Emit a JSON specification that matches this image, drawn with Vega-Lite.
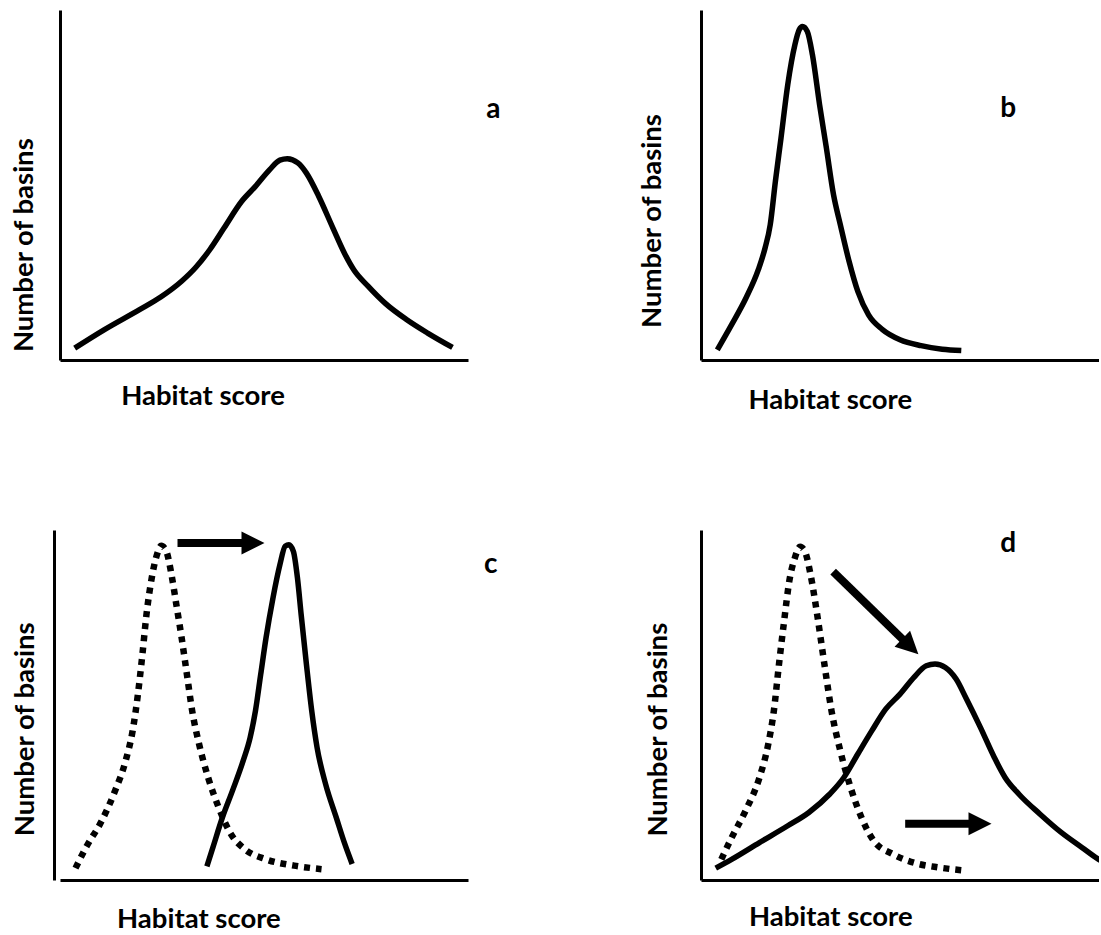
{
  "$schema": "https://vega.github.io/schema/vega-lite/v6.json",
  "background": "white",
  "padding": {"left": 10, "top": 10, "right": 0, "bottom": 0},
  "bounds": "flush",
  "align": "each",
  "columns": 2,
  "spacing": {"row": 170, "column": 233},
  "config": {
    "view": {"stroke": null},
    "axis": {
      "ticks": false, "labels": false, "grid": false,
      "domainColor": "black", "domainWidth": 3,
      "titleFont": "Lato", "titleFontWeight": "bold", "titleFontSize": 27.5, "titleColor": "black",
      "titleAlign": "center", "titleBaseline": "alphabetic"
    }
  },
  "datasets": {
    "curves": [
      {"p":"a","s":"solid","i":1,"score":3.6,"basins":3.4},
      {"p":"a","s":"solid","i":2,"score":10.9,"basins":8.7},
      {"p":"a","s":"solid","i":3,"score":19.5,"basins":14.4},
      {"p":"a","s":"solid","i":4,"score":24.7,"basins":18.0},
      {"p":"a","s":"solid","i":5,"score":29.8,"basins":22.5},
      {"p":"a","s":"solid","i":6,"score":33.3,"basins":26.5},
      {"p":"a","s":"solid","i":7,"score":36.7,"basins":31.5},
      {"p":"a","s":"solid","i":8,"score":40.2,"basins":37.7},
      {"p":"a","s":"solid","i":9,"score":44.5,"basins":45.3},
      {"p":"a","s":"solid","i":10,"score":47.9,"basins":49.6},
      {"p":"a","s":"solid","i":11,"score":51.4,"basins":54.4},
      {"p":"a","s":"solid","i":12,"score":53.9,"basins":57.1},
      {"p":"a","s":"solid","i":13,"score":55.7,"basins":57.5},
      {"p":"a","s":"solid","i":14,"score":58.3,"basins":56.3},
      {"p":"a","s":"solid","i":15,"score":60.4,"basins":53.4},
      {"p":"a","s":"solid","i":16,"score":63.4,"basins":46.8},
      {"p":"a","s":"solid","i":17,"score":66.9,"basins":37.7},
      {"p":"a","s":"solid","i":18,"score":69.9,"basins":30.1},
      {"p":"a","s":"solid","i":19,"score":72.0,"basins":25.8},
      {"p":"a","s":"solid","i":20,"score":75.5,"basins":21.1},
      {"p":"a","s":"solid","i":21,"score":79.8,"basins":16.1},
      {"p":"a","s":"solid","i":22,"score":85.0,"basins":11.5},
      {"p":"a","s":"solid","i":23,"score":90.1,"basins":7.7},
      {"p":"a","s":"solid","i":24,"score":96.2,"basins":3.6},

      {"p":"b","s":"solid","i":1,"score":4.1,"basins":2.9},
      {"p":"b","s":"solid","i":2,"score":7.7,"basins":10.1},
      {"p":"b","s":"solid","i":3,"score":11.3,"basins":17.7},
      {"p":"b","s":"solid","i":4,"score":14.4,"basins":25.8},
      {"p":"b","s":"solid","i":5,"score":16.1,"basins":32.0},
      {"p":"b","s":"solid","i":6,"score":17.4,"basins":38.7},
      {"p":"b","s":"solid","i":7,"score":18.7,"basins":51.1},
      {"p":"b","s":"solid","i":8,"score":20.1,"basins":63.4},
      {"p":"b","s":"solid","i":9,"score":21.8,"basins":78.7},
      {"p":"b","s":"solid","i":10,"score":23.6,"basins":90.1},
      {"p":"b","s":"solid","i":11,"score":24.7,"basins":94.4},
      {"p":"b","s":"solid","i":12,"score":25.5,"basins":95.3},
      {"p":"b","s":"solid","i":13,"score":26.7,"basins":93.9},
      {"p":"b","s":"solid","i":14,"score":28.0,"basins":87.2},
      {"p":"b","s":"solid","i":15,"score":29.8,"basins":72.9},
      {"p":"b","s":"solid","i":16,"score":31.5,"basins":60.6},
      {"p":"b","s":"solid","i":17,"score":33.3,"basins":47.2},
      {"p":"b","s":"solid","i":18,"score":35.0,"basins":38.7},
      {"p":"b","s":"solid","i":19,"score":37.2,"basins":28.2},
      {"p":"b","s":"solid","i":20,"score":39.4,"basins":19.6},
      {"p":"b","s":"solid","i":21,"score":42.1,"basins":12.9},
      {"p":"b","s":"solid","i":22,"score":45.6,"basins":8.7},
      {"p":"b","s":"solid","i":23,"score":50.0,"basins":5.8},
      {"p":"b","s":"solid","i":24,"score":55.3,"basins":4.1},
      {"p":"b","s":"solid","i":25,"score":60.6,"basins":3.1},
      {"p":"b","s":"solid","i":26,"score":65.4,"basins":2.7},

      {"p":"c","s":"dotted","i":1,"score":3.8,"basins":3.4},
      {"p":"c","s":"dotted","i":2,"score":6.6,"basins":9.8},
      {"p":"c","s":"dotted","i":3,"score":10.0,"basins":16.4},
      {"p":"c","s":"dotted","i":4,"score":13.5,"basins":25.5},
      {"p":"c","s":"dotted","i":5,"score":16.1,"basins":34.1},
      {"p":"c","s":"dotted","i":6,"score":17.8,"basins":42.6},
      {"p":"c","s":"dotted","i":7,"score":19.1,"basins":53.1},
      {"p":"c","s":"dotted","i":8,"score":20.2,"basins":64.5},
      {"p":"c","s":"dotted","i":9,"score":21.2,"basins":75.9},
      {"p":"c","s":"dotted","i":10,"score":22.5,"basins":86.4},
      {"p":"c","s":"dotted","i":11,"score":23.8,"basins":93.1},
      {"p":"c","s":"dotted","i":12,"score":24.8,"basins":95.5},
      {"p":"c","s":"dotted","i":13,"score":26.0,"basins":94.1},
      {"p":"c","s":"dotted","i":14,"score":27.3,"basins":87.4},
      {"p":"c","s":"dotted","i":15,"score":28.5,"basins":78.8},
      {"p":"c","s":"dotted","i":16,"score":29.8,"basins":69.3},
      {"p":"c","s":"dotted","i":17,"score":31.1,"basins":58.8},
      {"p":"c","s":"dotted","i":18,"score":32.4,"basins":48.3},
      {"p":"c","s":"dotted","i":19,"score":34.1,"basins":38.8},
      {"p":"c","s":"dotted","i":20,"score":36.3,"basins":29.3},
      {"p":"c","s":"dotted","i":21,"score":38.9,"basins":20.7},
      {"p":"c","s":"dotted","i":22,"score":41.9,"basins":13.1},
      {"p":"c","s":"dotted","i":23,"score":45.3,"basins":8.8},
      {"p":"c","s":"dotted","i":24,"score":50.5,"basins":5.9},
      {"p":"c","s":"dotted","i":25,"score":57.4,"basins":4.1},
      {"p":"c","s":"dotted","i":26,"score":64.1,"basins":3.1},

      {"p":"c","s":"solid","i":1,"score":36.0,"basins":3.9},
      {"p":"c","s":"solid","i":2,"score":37.5,"basins":9.4},
      {"p":"c","s":"solid","i":3,"score":39.7,"basins":17.5},
      {"p":"c","s":"solid","i":4,"score":42.3,"basins":25.6},
      {"p":"c","s":"solid","i":5,"score":44.9,"basins":34.1},
      {"p":"c","s":"solid","i":6,"score":46.6,"basins":40.7},
      {"p":"c","s":"solid","i":7,"score":47.9,"basins":48.3},
      {"p":"c","s":"solid","i":8,"score":49.2,"basins":58.8},
      {"p":"c","s":"solid","i":9,"score":50.5,"basins":69.2},
      {"p":"c","s":"solid","i":10,"score":52.2,"basins":80.6},
      {"p":"c","s":"solid","i":11,"score":53.9,"basins":90.1},
      {"p":"c","s":"solid","i":12,"score":55.2,"basins":95.4},
      {"p":"c","s":"solid","i":13,"score":56.1,"basins":95.8},
      {"p":"c","s":"solid","i":14,"score":57.2,"basins":93.9},
      {"p":"c","s":"solid","i":15,"score":58.2,"basins":86.3},
      {"p":"c","s":"solid","i":16,"score":59.1,"basins":75.9},
      {"p":"c","s":"solid","i":17,"score":60.4,"basins":61.6},
      {"p":"c","s":"solid","i":18,"score":61.7,"basins":48.3},
      {"p":"c","s":"solid","i":19,"score":63.0,"basins":37.9},
      {"p":"c","s":"solid","i":20,"score":65.1,"basins":27.4},
      {"p":"c","s":"solid","i":21,"score":67.7,"basins":17.9},
      {"p":"c","s":"solid","i":22,"score":69.8,"basins":10.3},
      {"p":"c","s":"solid","i":23,"score":71.6,"basins":4.6},

      {"p":"d","s":"dotted","i":1,"score":5.1,"basins":5.9},
      {"p":"d","s":"dotted","i":2,"score":7.7,"basins":12.1},
      {"p":"d","s":"dotted","i":3,"score":11.2,"basins":19.8},
      {"p":"d","s":"dotted","i":4,"score":14.7,"basins":29.3},
      {"p":"d","s":"dotted","i":5,"score":16.9,"basins":38.8},
      {"p":"d","s":"dotted","i":6,"score":18.3,"basins":48.3},
      {"p":"d","s":"dotted","i":7,"score":19.6,"basins":61.7},
      {"p":"d","s":"dotted","i":8,"score":20.9,"basins":74.1},
      {"p":"d","s":"dotted","i":9,"score":22.2,"basins":85.5},
      {"p":"d","s":"dotted","i":10,"score":23.6,"basins":92.1},
      {"p":"d","s":"dotted","i":11,"score":24.9,"basins":95.2},
      {"p":"d","s":"dotted","i":12,"score":26.2,"basins":93.6},
      {"p":"d","s":"dotted","i":13,"score":27.5,"basins":87.4},
      {"p":"d","s":"dotted","i":14,"score":29.3,"basins":75.0},
      {"p":"d","s":"dotted","i":15,"score":31.0,"basins":61.7},
      {"p":"d","s":"dotted","i":16,"score":32.8,"basins":48.3},
      {"p":"d","s":"dotted","i":17,"score":35.0,"basins":36.9},
      {"p":"d","s":"dotted","i":18,"score":37.6,"basins":26.4},
      {"p":"d","s":"dotted","i":19,"score":40.3,"basins":17.9},
      {"p":"d","s":"dotted","i":20,"score":43.4,"basins":11.2},
      {"p":"d","s":"dotted","i":21,"score":48.2,"basins":7.4},
      {"p":"d","s":"dotted","i":22,"score":54.3,"basins":4.7},
      {"p":"d","s":"dotted","i":23,"score":59.6,"basins":3.6},
      {"p":"d","s":"dotted","i":24,"score":65.4,"basins":2.8},

      {"p":"d","s":"solid","i":1,"score":3.7,"basins":3.4},
      {"p":"d","s":"solid","i":2,"score":7.7,"basins":5.9},
      {"p":"d","s":"solid","i":3,"score":14.7,"basins":10.7},
      {"p":"d","s":"solid","i":4,"score":21.8,"basins":15.5},
      {"p":"d","s":"solid","i":5,"score":27.1,"basins":19.3},
      {"p":"d","s":"solid","i":6,"score":32.3,"basins":24.5},
      {"p":"d","s":"solid","i":7,"score":35.9,"basins":29.3},
      {"p":"d","s":"solid","i":8,"score":39.4,"basins":36.0},
      {"p":"d","s":"solid","i":9,"score":42.9,"basins":42.6},
      {"p":"d","s":"solid","i":10,"score":46.4,"basins":48.8},
      {"p":"d","s":"solid","i":11,"score":50.0,"basins":53.1},
      {"p":"d","s":"solid","i":12,"score":53.5,"basins":57.9},
      {"p":"d","s":"solid","i":13,"score":56.6,"basins":61.2},
      {"p":"d","s":"solid","i":14,"score":58.8,"basins":61.7},
      {"p":"d","s":"solid","i":15,"score":61.4,"basins":60.7},
      {"p":"d","s":"solid","i":16,"score":64.1,"basins":57.4},
      {"p":"d","s":"solid","i":17,"score":66.7,"basins":51.7},
      {"p":"d","s":"solid","i":18,"score":70.2,"basins":43.6},
      {"p":"d","s":"solid","i":19,"score":73.7,"basins":35.0},
      {"p":"d","s":"solid","i":20,"score":76.4,"basins":29.3},
      {"p":"d","s":"solid","i":21,"score":79.9,"basins":24.5},
      {"p":"d","s":"solid","i":22,"score":85.2,"basins":18.8},
      {"p":"d","s":"solid","i":23,"score":90.5,"basins":13.6},
      {"p":"d","s":"solid","i":24,"score":95.7,"basins":9.3},
      {"p":"d","s":"solid","i":25,"score":99.9,"basins":5.9},
      {"p":"d","s":"solid","i":26,"score":104.0,"basins":3.6}
    ],
    "shafts": [
      {"p":"c","score":28.8,"basins":96.3,"score2":45.0,"basins2":96.3},
      {"p":"d","score":51.3,"basins":16.1,"score2":67.6,"basins2":16.1},
      {"p":"d","score":33.2,"basins":88.1,"score2":51.0,"basins2":68.4}
    ],
    "heads": [
      {"p":"c","dir":"right","score":47.3,"basins":96.3},
      {"p":"d","dir":"right","score":70.1,"basins":16.1},
      {"p":"d","dir":"down-right","score":52.6,"basins":66.7}
    ],
    "labels": [
      {"p":"a","label":"a","score":106.2,"basins":69.1},
      {"p":"b","label":"b","score":77.2,"basins":69.5},
      {"p":"c","label":"c","score":105.6,"basins":87.6},
      {"p":"d","label":"d","score":77.2,"basins":93.8}
    ]
  },
  "concat": [
    {
      "width": 408, "height": 350,
      "encoding": {
        "x": {"field": "score", "type": "quantitative", "scale": {"domain": [0, 100], "nice": false, "zero": false},
              "axis": {"title": "Habitat score", "titleX": 142.5, "titleY": 44}},
        "y": {"field": "basins", "type": "quantitative", "scale": {"domain": [0, 100], "nice": false, "zero": false},
              "axis": {"title": "Number of basins", "titleX": -27.6, "titleY": 234.7}}
      },
      "layer": [
        {"data": {"name": "curves"}, "transform": [{"filter": "datum.p === 'a' && datum.s === 'solid'"}],
         "mark": {"type": "line", "interpolate": "monotone", "color": "black", "strokeWidth": 5.5, "strokeCap": "butt", "strokeJoin": "round"},
         "encoding": {"order": {"field": "i", "type": "quantitative"}}},
        {"data": {"name": "labels"}, "transform": [{"filter": "datum.p === 'a'"}],
         "mark": {"type": "text", "font": "Lato", "fontWeight": "bold", "fontSize": 28, "align": "center", "baseline": "alphabetic", "color": "black"},
         "encoding": {"text": {"field": "label", "type": "nominal"}}}
      ]
    },
    {
      "width": 398, "height": 350,
      "encoding": {
        "x": {"field": "score", "type": "quantitative", "scale": {"domain": [0, 100], "nice": false, "zero": false},
              "axis": {"title": "Habitat score", "titleX": 128.8, "titleY": 48.7}},
        "y": {"field": "basins", "type": "quantitative", "scale": {"domain": [0, 100], "nice": false, "zero": false},
              "axis": {"title": "Number of basins", "titleX": -40.3, "titleY": 210.5}}
      },
      "layer": [
        {"data": {"name": "curves"}, "transform": [{"filter": "datum.p === 'b' && datum.s === 'solid'"}],
         "mark": {"type": "line", "interpolate": "monotone", "color": "black", "strokeWidth": 5.5, "strokeCap": "butt", "strokeJoin": "round"},
         "encoding": {"order": {"field": "i", "type": "quantitative"}}},
        {"data": {"name": "labels"}, "transform": [{"filter": "datum.p === 'b'"}],
         "mark": {"type": "text", "font": "Lato", "fontWeight": "bold", "fontSize": 28, "align": "center", "baseline": "alphabetic", "color": "black"},
         "encoding": {"text": {"field": "label", "type": "nominal"}}}
      ]
    },
    {
      "width": 408, "height": 350,
      "encoding": {
        "x": {"field": "score", "type": "quantitative", "scale": {"domain": [0, 100], "nice": false, "zero": false},
              "axis": {"title": "Habitat score", "titleX": 138.4, "titleY": 47}},
        "y": {"field": "basins", "type": "quantitative", "scale": {"domain": [0, 100], "nice": false, "zero": false},
              "axis": {"title": "Number of basins", "offset": 6, "titleX": -21, "titleY": 198.8}}
      },
      "layer": [
        {"data": {"name": "curves"}, "transform": [{"filter": "datum.p === 'c' && datum.s === 'dotted'"}],
         "mark": {"type": "line", "interpolate": "monotone", "color": "black", "strokeWidth": 6.5, "strokeDash": [6, 6], "strokeCap": "butt"},
         "encoding": {"order": {"field": "i", "type": "quantitative"}}},
        {"data": {"name": "curves"}, "transform": [{"filter": "datum.p === 'c' && datum.s === 'solid'"}],
         "mark": {"type": "line", "interpolate": "monotone", "color": "black", "strokeWidth": 5.5, "strokeCap": "butt", "strokeJoin": "round"},
         "encoding": {"order": {"field": "i", "type": "quantitative"}}},
        {"data": {"name": "shafts"}, "transform": [{"filter": "datum.p === 'c'"}],
         "mark": {"type": "rule", "color": "black", "strokeWidth": 8, "strokeCap": "butt"},
         "encoding": {"x2": {"field": "score2"}, "y2": {"field": "basins2"}}},
        {"data": {"name": "heads"}, "transform": [{"filter": "datum.p === 'c'"}],
         "mark": {"type": "point", "shape": "M-1,-1L1,0L-1,1Z", "size": 529, "filled": true, "color": "black", "opacity": 1, "strokeWidth": 0},
         "encoding": {}},
        {"data": {"name": "labels"}, "transform": [{"filter": "datum.p === 'c'"}],
         "mark": {"type": "text", "font": "Lato", "fontWeight": "bold", "fontSize": 28, "align": "center", "baseline": "alphabetic", "color": "black"},
         "encoding": {"text": {"field": "label", "type": "nominal"}}}
      ]
    },
    {
      "width": 398, "height": 350,
      "encoding": {
        "x": {"field": "score", "type": "quantitative", "scale": {"domain": [0, 100], "nice": false, "zero": false},
              "axis": {"title": "Habitat score", "titleX": 129.3, "titleY": 45.8}},
        "y": {"field": "basins", "type": "quantitative", "scale": {"domain": [0, 100], "nice": false, "zero": false},
              "axis": {"title": "Number of basins", "titleX": -35, "titleY": 199.2}}
      },
      "layer": [
        {"data": {"name": "curves"}, "transform": [{"filter": "datum.p === 'd' && datum.s === 'dotted'"}],
         "mark": {"type": "line", "interpolate": "monotone", "color": "black", "strokeWidth": 6.5, "strokeDash": [6, 6], "strokeCap": "butt"},
         "encoding": {"order": {"field": "i", "type": "quantitative"}}},
        {"data": {"name": "curves"}, "transform": [{"filter": "datum.p === 'd' && datum.s === 'solid'"}],
         "mark": {"type": "line", "interpolate": "monotone", "color": "black", "strokeWidth": 5.5, "strokeCap": "butt", "strokeJoin": "round", "clip": true},
         "encoding": {"order": {"field": "i", "type": "quantitative"}}},
        {"data": {"name": "shafts"}, "transform": [{"filter": "datum.p === 'd'"}],
         "mark": {"type": "rule", "color": "black", "strokeWidth": 8, "strokeCap": "butt"},
         "encoding": {"x2": {"field": "score2"}, "y2": {"field": "basins2"}}},
        {"data": {"name": "heads"}, "transform": [{"filter": "datum.p === 'd' && datum.dir === 'right'"}],
         "mark": {"type": "point", "shape": "M-1,-1L1,0L-1,1Z", "size": 529, "filled": true, "color": "black", "opacity": 1, "strokeWidth": 0},
         "encoding": {}},
        {"data": {"name": "heads"}, "transform": [{"filter": "datum.p === 'd' && datum.dir === 'down-right'"}],
         "mark": {"type": "point", "shape": "M-1,-1L1,0L-1,1Z", "size": 500, "angle": 44, "filled": true, "color": "black", "opacity": 1, "strokeWidth": 0},
         "encoding": {}},
        {"data": {"name": "labels"}, "transform": [{"filter": "datum.p === 'd'"}],
         "mark": {"type": "text", "font": "Lato", "fontWeight": "bold", "fontSize": 28, "align": "center", "baseline": "alphabetic", "color": "black"},
         "encoding": {"text": {"field": "label", "type": "nominal"}}}
      ]
    }
  ]
}
